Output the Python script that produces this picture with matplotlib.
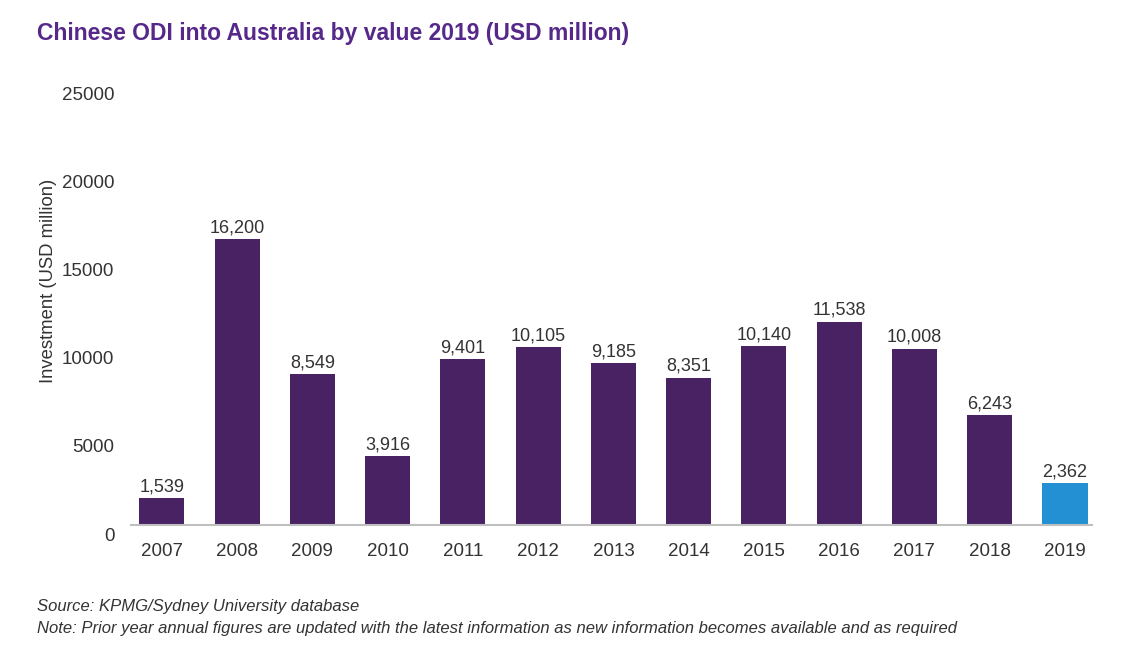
import matplotlib
matplotlib.use("Agg")
import matplotlib.pyplot as plt
import matplotlib.transforms as mtransforms
from matplotlib import font_manager

# --- data ---
years = ["2007", "2008", "2009", "2010", "2011", "2012", "2013",
         "2014", "2015", "2016", "2017", "2018", "2019"]
values = [1539, 16200, 8549, 3916, 9401, 10105, 9185,
          8351, 10140, 11538, 10008, 6243, 2362]
y_ticks = [0, 5000, 10000, 15000, 20000, 25000]

purple = "#482263"
blue = "#2290D3"
title_col = "#55288A"
text_col = "#333333"

names = {f.name for f in font_manager.fontManager.ttflist}
narrow = "Liberation Sans Narrow" if "Liberation Sans Narrow" in names else "Liberation Sans"
plt.rcParams["font.family"] = ["Liberation Sans", "DejaVu Sans"]

fig = plt.figure(figsize=(11.46, 6.53), dpi=100)
ax = fig.add_axes([0.1143, 0.196, 0.8386, 0.675])

colors = [purple] * (len(years) - 1) + [blue]
x = list(range(len(years)))
bars = ax.bar(x, values, width=0.6, color=colors, zorder=2)

for xi, v in zip(x, values):
    ax.annotate(f"{v:,}", (xi, v), xytext=(0, 2), textcoords="offset points",
                ha="center", va="bottom", fontsize=13, color=text_col)

ax.set_xlim(-0.41, 12.36)
ax.set_ylim(0, 25000)
ax.set_xticks(x)
ax.set_xticklabels(years, fontsize=13.5, color=text_col)
ax.set_yticks(y_ticks)
ax.set_yticklabels([str(t) for t in y_ticks], fontsize=13.5, color=text_col)
ax.tick_params(axis="both", length=0)
ax.tick_params(axis="x", pad=13)
ax.tick_params(axis="y", pad=12)

# tick labels in the reference sit a little below the value they mark
shift = mtransforms.ScaledTranslation(0, -6.5 / 72, fig.dpi_scale_trans)
for lab in ax.get_yticklabels():
    lab.set_transform(lab.get_transform() + shift)

for s in ["top", "right", "left"]:
    ax.spines[s].set_visible(False)
ax.spines["bottom"].set_color("#BFBFBF")
ax.spines["bottom"].set_linewidth(1.5)

ax.set_ylabel("Investment (USD million)", fontsize=13.3, color=text_col)
ax.yaxis.set_label_coords(-0.077, 0.555)

fig.text(0.032, 0.948, "Chinese ODI into Australia by value 2019 (USD million)",
         fontsize=16.5, fontweight="bold", color=title_col, family=narrow,
         ha="left", va="center")
fig.text(0.032, 0.071, "Source: KPMG/Sydney University database",
         fontsize=12, style="italic", color=text_col, family=narrow,
         ha="left", va="center")
fig.text(0.032, 0.038,
         "Note: Prior year annual figures are updated with the latest information as new information becomes available and as required",
         fontsize=12, style="italic", color=text_col, family=narrow,
         ha="left", va="center")

fig.savefig("out.png", dpi=100, facecolor="white")
